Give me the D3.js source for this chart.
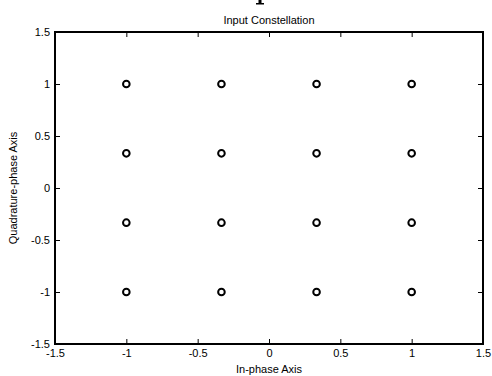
<!DOCTYPE html>
<html><head><meta charset="utf-8">
<script src="https://cdn.jsdelivr.net/npm/d3@7"></script>
<style>body{margin:0;background:#fff}svg{display:block}text{font-family:"Liberation Sans",Arial,sans-serif}</style>
</head><body>
<script>
const iValues = [-1, -1/3, 1/3, 1];
const qValues = [-1, -1/3, 1/3, 1];
const xTicks = [-1.5, -1, -0.5, 0, 0.5, 1, 1.5];
const yTicks = [-1.5, -1, -0.5, 0, 0.5, 1, 1.5];
const titleText = "Input Constellation";
const xLabel = "In-phase Axis";
const yLabel = "Quadrature-phase Axis";

const W = 492, H = 376;
const m = {l: 55, r: 9, t: 32, b: 32};
const svg = d3.select("body").append("svg").attr("width", W).attr("height", H);
const x = d3.scaleLinear().domain([-1.5, 1.5]).range([m.l, W - m.r]);
const y = d3.scaleLinear().domain([-1.5, 1.5]).range([H - m.b, m.t]);

const fmt = d => String(d);
const tk = 5;
svg.append("g").attr("transform", `translate(0,${H - m.b})`)
  .call(d3.axisBottom(x).tickValues(xTicks).tickFormat(fmt).tickSizeInner(-tk).tickSizeOuter(0).tickPadding(5))
  .call(g => { g.select(".domain").remove(); g.selectAll("text").attr("font-size", 11).attr("fill", "#000").attr("font-family", "Liberation Sans, Arial, sans-serif"); });
svg.append("g").attr("transform", `translate(0,${m.t})`)
  .call(d3.axisTop(x).tickValues(xTicks).tickFormat("").tickSizeInner(-tk).tickSizeOuter(0))
  .call(g => g.select(".domain").remove());
svg.append("g").attr("transform", `translate(${m.l},0)`)
  .call(d3.axisLeft(y).tickValues(yTicks).tickFormat(fmt).tickSizeInner(-tk).tickSizeOuter(0).tickPadding(5))
  .call(g => { g.select(".domain").remove(); g.selectAll("text").attr("font-size", 11).attr("fill", "#000").attr("font-family", "Liberation Sans, Arial, sans-serif"); });
svg.append("g").attr("transform", `translate(${W - m.r},0)`)
  .call(d3.axisRight(y).tickValues(yTicks).tickFormat("").tickSizeInner(-tk).tickSizeOuter(0))
  .call(g => g.select(".domain").remove());

svg.append("rect").attr("x", m.l).attr("y", m.t).attr("width", W - m.l - m.r).attr("height", H - m.t - m.b)
  .attr("fill", "none").attr("stroke", "#000").attr("stroke-width", 2);

const pts = [];
iValues.forEach(i => qValues.forEach(q => pts.push({i, q})));
svg.append("g").selectAll("circle").data(pts).join("circle")
  .attr("cx", d => x(d.i)).attr("cy", d => y(d.q)).attr("r", 3.3)
  .attr("fill", "none").attr("stroke", "#000").attr("stroke-width", 2);

svg.append("text").attr("x", (m.l + W - m.r) / 2).attr("y", 24).attr("text-anchor", "middle")
  .attr("font-size", 11).text(titleText);
// fragment of a clipped glyph above the plot (stem with serif foot)
svg.append("path").attr("d", "M258.5,0 H261.5 V3 H264 V4.5 H256 V3 H258.5 Z").attr("fill", "#000");
svg.append("text").attr("x", (m.l + W - m.r) / 2).attr("y", 373).attr("text-anchor", "middle")
  .attr("font-size", 11).text(xLabel);
svg.append("text").attr("transform", `translate(17,${(m.t + H - m.b) / 2}) rotate(-90)`).attr("text-anchor", "middle")
  .attr("font-size", 11).text(yLabel);
</script>
</body></html>
